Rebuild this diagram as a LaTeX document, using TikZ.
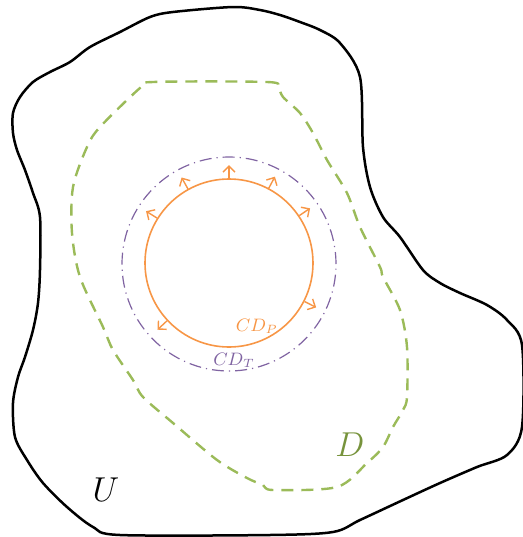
\documentclass[tikz,border=0pt]{standalone}
\usetikzlibrary{arrows.meta}
\definecolor{ogreen}{HTML}{9BBB59}
\definecolor{dgreen}{HTML}{77933C}
\definecolor{oorange}{HTML}{F79646}
\definecolor{opurple}{HTML}{8064A2}
\begin{document}
\begin{tikzpicture}[x=0.5pt,y=-0.5pt,
  boundU/.style={draw=black,line width=1.25pt,line join=round},
  boundD/.style={draw=ogreen,line width=1.2pt,dash pattern=on 6pt off 4pt},
  circP/.style={circle,draw=oorange,line width=0.8pt,inner sep=0pt,minimum size=84pt},
  circT/.style={circle,draw=opurple,line width=0.6pt,inner sep=0pt,minimum size=107pt,
                dash pattern=on 6pt off 2.5pt on 0.6pt off 2.5pt},
  outarrow/.style={draw=oorange,line width=0.7pt,-{Straight Barb[length=3pt,width=6pt]}},
  lbl/.style={inner sep=0pt}]
\useasboundingbox (0,0) rectangle (523,537);
% domain U
\draw[boundU] plot[smooth cycle,tension=0.5] coordinates {
(173,12) (233,7) (260,10) (280,15) (300,22) (320,30) (340,43) (360,77) (363,147)
(370,187) (383,217) (400,237) (423,270) (440,283) (460,293) (487,305) (507,320)
(522,345) (522,427) (507,455) (477,467) (440,483) (403,500) (360,520) (333,532)
(270,535) (120,535) (93,527) (67,507) (43,483) (27,460) (15,437) (13,403) (18,377)
(25,357) (33,330) (38,303) (40,270) (40,217) (33,193) (25,170) (17,150) (13,133)
(13,113) (20,97) (33,82) (50,72) (70,62) (90,47) (120,32) (150,17)};
% domain D
\draw[boundD] plot[smooth cycle,tension=0.5] coordinates {
(153,82) (267,82) (278,87) (283,97) (300,113) (313,133) (327,160) (347,193) (360,227)
(380,267) (383,277) (400,310) (407,347) (407,397) (403,410) (393,427) (383,447)
(367,463) (337,487) (273,490) (263,485) (247,478) (217,460) (173,423) (143,397)
(133,380) (113,350) (103,327) (80,277) (72,233) (73,187) (87,147) (100,127) (140,88)};
% circles
\node[circT] (ct) at (229,264) {};
\node[circP] (cp) at (229,263) {};
\foreach \a in {90,62,119,34,148,-27,-137}{
  \draw[outarrow] (cp.\a) -- ++(\a:6.5pt);
}
% labels
\node[lbl,text=oorange,font=\fontsize{9}{10}\selectfont] (lp) at (257,326) {$CD_P$};
\node[lbl,text=opurple,font=\fontsize{9}{10}\selectfont] (lt) at (234,360) {$CD_T$};
\node[lbl,text=dgreen,font=\fontsize{17}{19}\selectfont] (ld) at (350,445) {$D$};
\node[lbl,text=black,font=\fontsize{17}{19}\selectfont] (lu) at (106,490) {$U$};
\end{tikzpicture}
\end{document}
